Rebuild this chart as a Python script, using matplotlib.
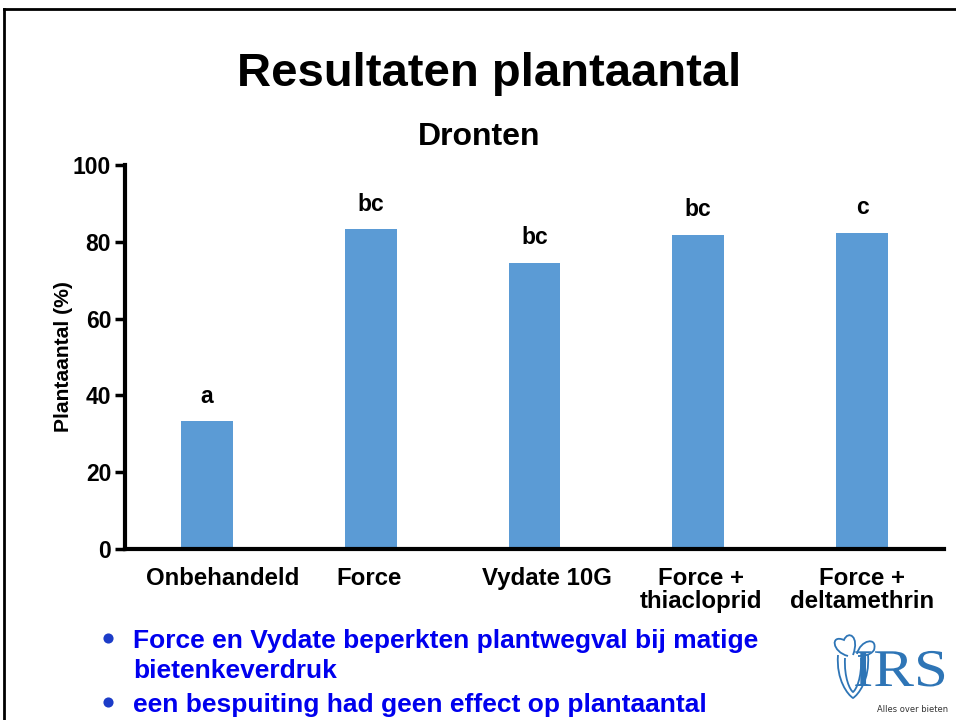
import matplotlib
matplotlib.use("Agg")
import matplotlib.pyplot as plt
from matplotlib.lines import Line2D
from matplotlib.patches import PathPatch
from matplotlib.path import Path
from matplotlib.textpath import TextPath
from matplotlib.font_manager import FontProperties
from matplotlib.transforms import Affine2D, ScaledTranslation

plt.rcParams['font.family'] = ['Liberation Sans', 'DejaVu Sans']

categories = ["Onbehandeld", "Force", "Vydate 10G", "Force +\nthiacloprid", "Force +\ndeltamethrin"]
values = [33.3, 83.3, 74.5, 81.8, 82.4]
letters = ["a", "bc", "bc", "bc", "c"]
yticks = [0, 20, 40, 60, 80, 100]
bullet_lines = ["Force en Vydate beperkten plantwegval bij matige",
                "bietenkeverdruk",
                "een bespuiting had geen effect op plantaantal"]
bullet_marks = [True, False, True]

W, H = 956, 720
fig = plt.figure(figsize=(W / 100, H / 100), dpi=100)

# slide frame
fig.add_artist(Line2D([0.004, 0.004], [0, 0.987], color='black', lw=2, transform=fig.transFigure))
fig.add_artist(Line2D([0.004, 1.0], [0.987, 0.987], color='black', lw=2, transform=fig.transFigure))

fig.text(0.512, 0.897, "Resultaten plantaantal", fontsize=34, fontweight='bold', ha='center', va='center')
fig.text(0.501, 0.810, "Dronten", fontsize=23, fontweight='bold', ha='center', va='center')

ax = fig.add_axes([0.1308, 0.2375, 0.8566, 0.5333])
x = list(range(len(categories)))
ax.bar(x, values, width=0.315, color='#5B9BD5')
for xi, v, l in zip(x, values, letters):
    ax.text(xi, v + 6.5, l, ha='center', va='center', fontsize=16.5, fontweight='bold')

ax.set_xlim(-0.5, 4.5)
ax.set_ylim(0, 100)
ax.set_yticks(yticks)
ax.set_yticklabels([str(t) for t in yticks], fontsize=16.5, fontweight='bold')
ax.set_xticks(x)
ax.set_xticklabels(categories, fontsize=17.3, fontweight='bold', linespacing=1.02)
ax.tick_params(axis='x', length=0, pad=13)
ax.tick_params(axis='y', length=7, width=2.5, direction='out', pad=3)
# small horizontal shifts of category labels as in the slide (points)
shifts = [11, -1, 9, 2, 0]
for lab, s in zip(ax.get_xticklabels(), shifts):
    lab.set_transform(lab.get_transform() + ScaledTranslation(s / 72, 0, fig.dpi_scale_trans))
ax.spines['top'].set_visible(False)
ax.spines['right'].set_visible(False)
ax.spines['left'].set_linewidth(3)
ax.spines['bottom'].set_linewidth(3)
ax.set_ylabel("Plantaantal (%)", fontsize=15.2, fontweight='bold', labelpad=0)

# bullets
blue = '#0000ee'
line_y = [1 - 641 / H, 1 - 671 / H, 1 - 705 / H]
for yb, t, m in zip(line_y, bullet_lines, bullet_marks):
    if m:
        fig.add_artist(Line2D([108 / W], [yb + 3 / H], marker='o', markersize=7.3, color='#1c3cc8',
                              markeredgewidth=0, transform=fig.transFigure))
    fig.text(0.139, yb, t, fontsize=19, fontweight='bold', color=blue, ha='left', va='center')

# logo approximation (image pixel coordinates, y downward)
logo_col = '#2e75b6'
img = Affine2D().scale(1, -1).translate(0, H)
tp = TextPath((0, 0), "IRS", size=53, prop=FontProperties(family='Liberation Serif'))
tp_tr = Affine2D().scale(1.15, 1).translate(853, H - 686)
fig.add_artist(PathPatch(tp_tr.transform_path(tp), fc=logo_col, ec='none',
                         transform=Affine2D()))
C = Path.CURVE4
M = Path.MOVETO
beet = [
    ([(838, 655), (836, 680), (848, 695), (853, 698), (858, 695), (870, 680), (868, 655)],
     [M, C, C, C, C, C, C]),
    ([(845, 658), (844, 678), (850, 690), (853, 692), (856, 690), (862, 678), (861, 658)],
     [M, C, C, C, C, C, C]),
    ([(848, 656), (832, 652), (830, 634), (844, 640), (848, 630), (860, 636), (853, 655)],
     [M, C, C, C, C, C, C]),
    ([(857, 654), (860, 640), (878, 636), (874, 650), (870, 656), (862, 656), (858, 656)],
     [M, C, C, C, C, C, C]),
]
for verts, codes in beet:
    fig.add_artist(PathPatch(Path(verts, codes), fc='none', ec=logo_col, lw=1.3,
                             transform=img))
fig.text(948 / W, 1 - 709 / H, "Alles over bieten", family='Liberation Sans Narrow', fontsize=6,
         color='#333333', ha='right', va='center')

fig.savefig("out.png", dpi=100)
